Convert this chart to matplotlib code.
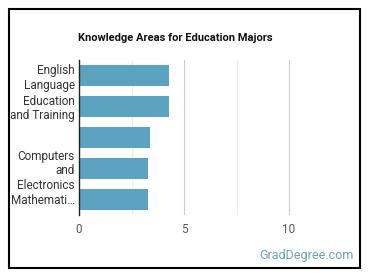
import matplotlib
matplotlib.use("Agg")
import matplotlib.pyplot as plt
from matplotlib.patches import Rectangle
import numpy as np

plt.rcParams['font.family'] = ['Roboto', 'DejaVu Sans']

# data
labels = ["English\nLanguage", "Education\nand Training", "", "Computers\nand\nElectronics", "Mathemati\u2026"]
values = [4.3, 4.3, 3.4, 3.3, 3.3]

BAR_COLOR = '#5ba3c1'
LABEL_SIZE = 8.5
TICK_SIZE = 8.5

fig = plt.figure(figsize=(3.7, 2.78), dpi=100)
ax = fig.add_axes([79 / 370, 1 - 215 / 278, 262.5 / 370, 155 / 278])

y = np.arange(len(values))
ax.barh(y, values, height=0.65, color=BAR_COLOR, zorder=3)
ax.set_ylim(len(values) - 0.5, -0.5)
ax.set_xlim(0, 12.5)

ax.set_yticks(y)
ax.set_yticklabels(labels, fontsize=LABEL_SIZE, color='#333333', linespacing=1.15)
ax.set_xticks([0, 5, 10])
ax.set_xticklabels(['0', '5', '10'], fontsize=TICK_SIZE, color='#555555')
ax.set_xticks([2.5, 7.5], minor=True)
ax.tick_params(axis='both', length=0, pad=6)
ax.tick_params(axis='y', pad=3)
ax.tick_params(axis='x', which='minor', length=0)

ax.grid(axis='x', which='major', color='#cccccc', lw=0.8, zorder=0)
ax.grid(axis='x', which='minor', color='#ececec', lw=0.8, zorder=0)
for s in ['top', 'right', 'bottom']:
    ax.spines[s].set_visible(False)
ax.spines['left'].set_color('#222222')
ax.spines['left'].set_linewidth(1.0)
ax.spines['left'].set_zorder(4)

fig.text(175 / 370, 1 - 38 / 278, "Knowledge Areas for Education Majors",
         ha='center', va='center', fontsize=8, fontweight='bold', color='#111111')
fig.text(354 / 370, 1 - 256 / 278, "GradDegree.com", ha='right', va='center',
         fontsize=9, color='#6d9fbb')

fig.patches.append(Rectangle((8.5 / 370, 1 - 267.5 / 278), 351 / 370, 259 / 278,
                             transform=fig.transFigure, fill=False,
                             edgecolor='black', lw=1.5))

fig.savefig("out.png", dpi=100)
